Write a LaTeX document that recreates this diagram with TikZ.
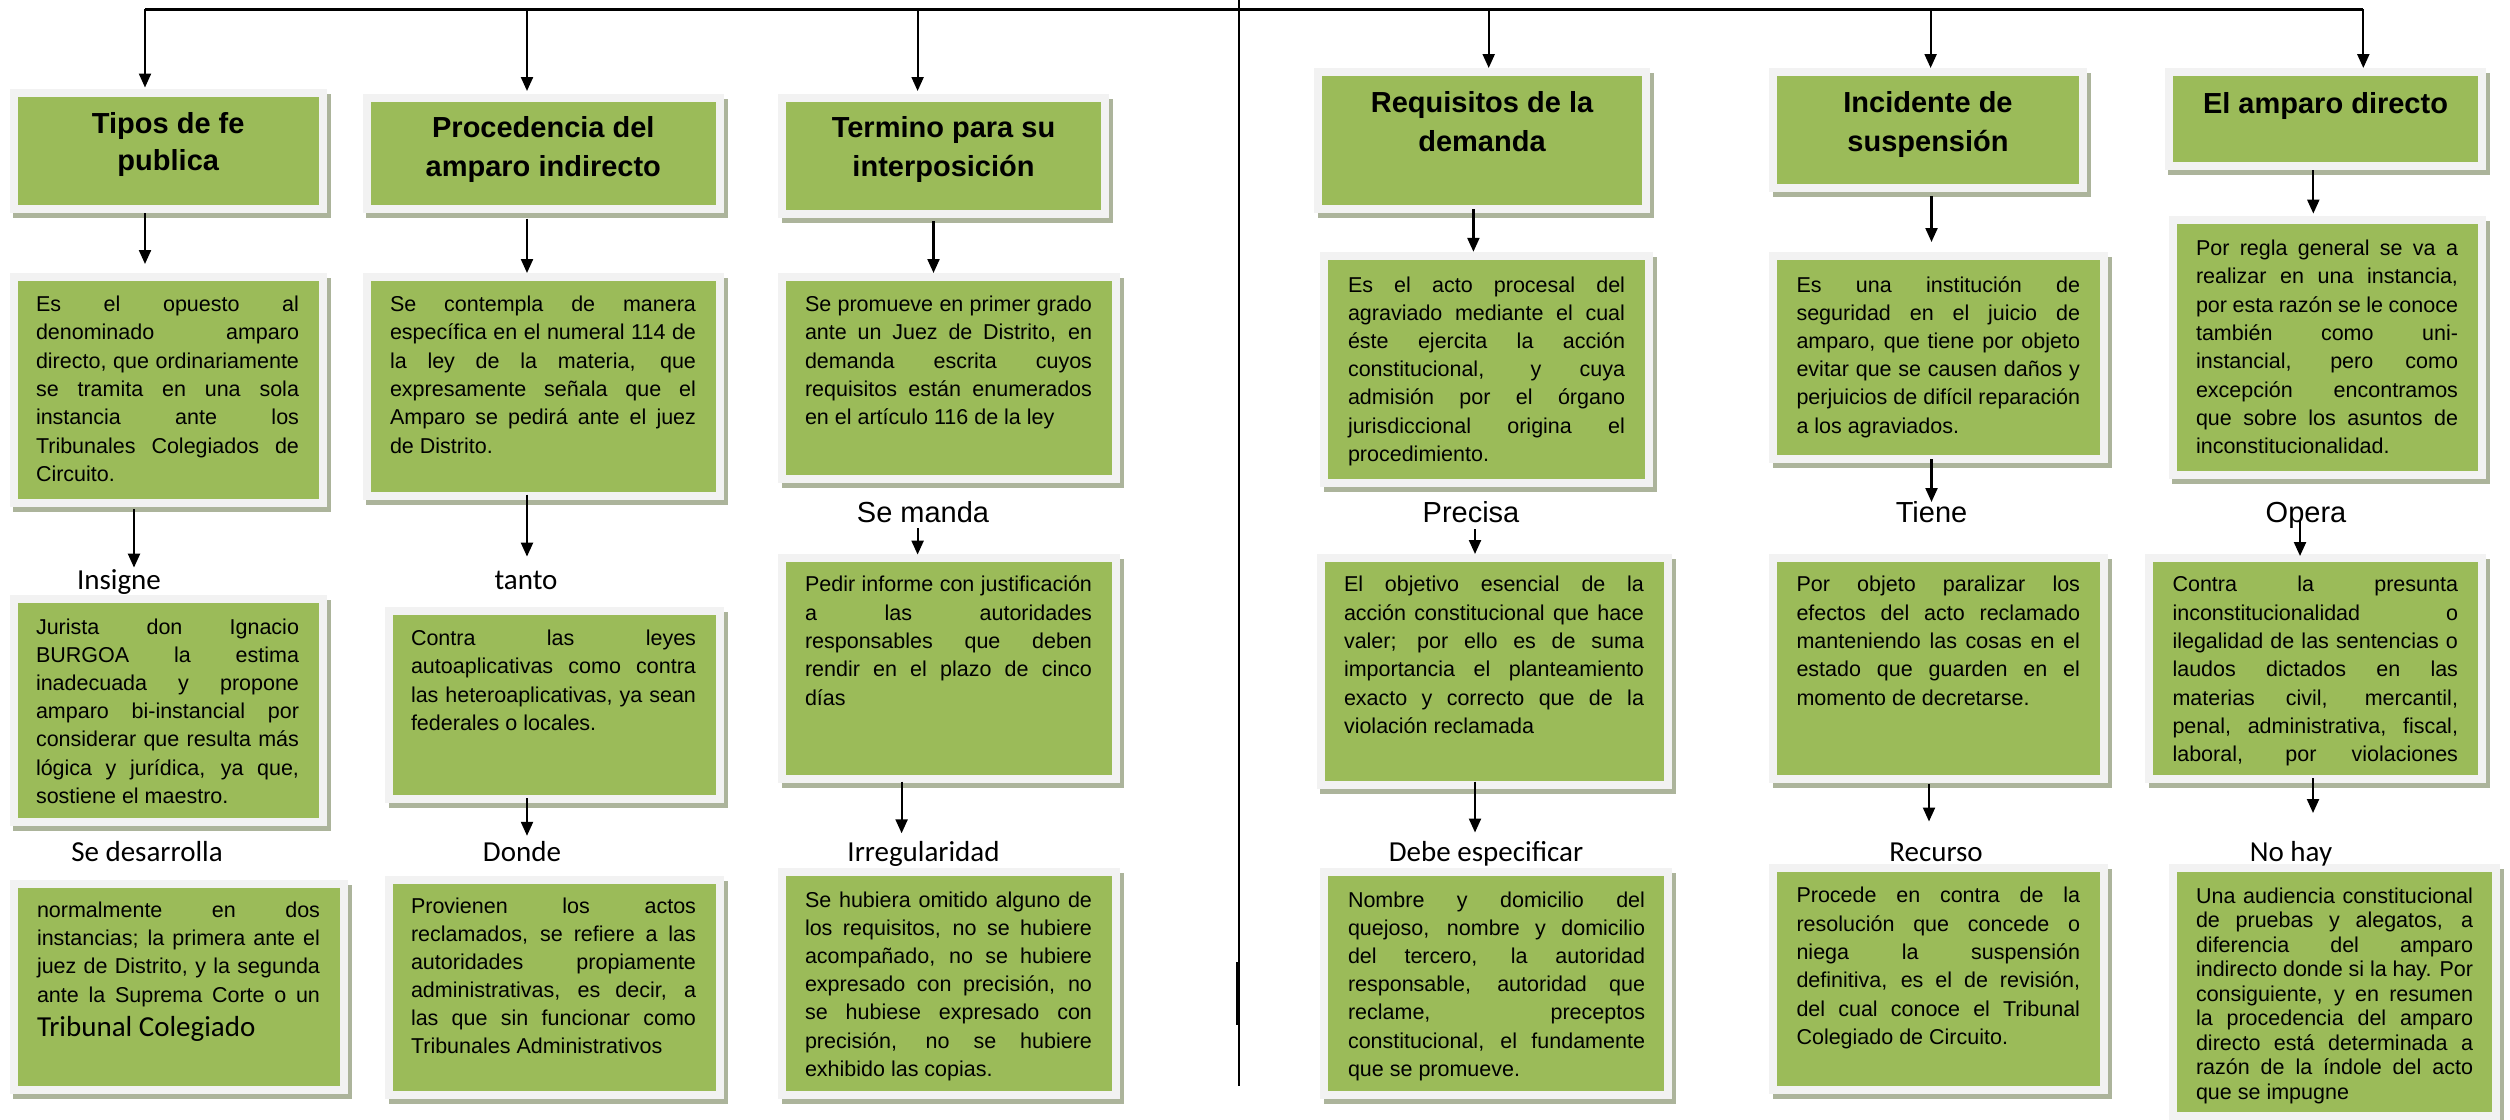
\documentclass[tikz,border=0pt]{standalone}
\usepackage{fontspec}
\setmainfont{Liberation Sans}
\newfontfamily\calfont{Carlito}
\usetikzlibrary{arrows.meta}
\definecolor{boxgreen}{RGB}{155,187,89}
\definecolor{framec}{RGB}{242,242,242}
\definecolor{shadowc}{RGB}{172,180,155}
\tikzset{
  gbox/.style={fill=boxgreen,draw=none,inner sep=0pt,outer sep=0pt},
  arr/.style={-{Triangle[length=14pt,width=12pt]},line width=2.2pt},
  topline/.style={line width=3pt},
  divline/.style={line width=2.4pt},
  lblA/.style={inner sep=0pt,anchor=base,font=\fontsize{29pt}{29pt}\selectfont},
  lblB/.style={inner sep=0pt,anchor=base,font=\calfont\fontsize{29pt}{29pt}\selectfont},
}
\newcommand\GB[5]{%
  \fill[shadowc] ({#2-8+3.5},{#3-8+5}) rectangle ({#4+8+3.5},{#5+8+5});
  \fill[framec] ({#2-8},{#3-8}) rectangle ({#4+8},{#5+8});
  \pgfmathsetmacro\gw{#4-#2}\pgfmathsetmacro\gh{#5-#3}%
  \node[gbox,minimum width=\gw pt,minimum height=\gh pt,anchor=north west] (#1) at (#2,#3) {};}
\newcommand\JL[1]{\hbox to\hsize{#1}}
\newcommand\LL[1]{\hbox to\hsize{#1\hfil}}
\newcommand\CL[1]{\hbox to\hsize{\hfil #1\hfil}}
\newcommand\BT[6]{\node[anchor=base west,inner sep=0pt,outer sep=0pt] (#1) at (#2,#3) {\vtop{\hsize=#4pt\fontsize{21.5pt}{#5pt}\selectfont #6}};}
\newcommand\TT[5]{\node[anchor=base,inner sep=0pt,outer sep=0pt] (#1) at (#2,#3) {\vtop{\hsize=330pt\fontsize{29pt}{#4pt}\selectfont\bfseries #5}};}
\begin{document}
\begin{tikzpicture}[x=1pt,y=-1pt]
\useasboundingbox (0,0) rectangle (2510,1119);
\fill[white] (0,0) rectangle (2510,1119);

% ---------- boxes ----------
\GB{T1}{17.5}{97}{319}{205}
\GB{A1}{17.5}{281}{319}{499}
\GB{B1}{17.5}{603}{319}{818}
\GB{C1}{17.5}{888}{340}{1086}
\GB{T2}{370.7}{101.8}{716}{205.4}
\GB{A2}{370.7}{281}{716}{492}
\GB{B2}{393}{614.5}{716}{794.6}
\GB{C2}{393}{883.5}{716}{1091}
\GB{T3}{786}{101.8}{1101}{210}
\GB{A3}{786}{281}{1112}{475}
\GB{B3}{786}{561.5}{1112}{774.6}
\GB{C3}{786}{876}{1112}{1091}
\GB{T4}{1322}{76}{1642}{205}
\GB{A4}{1328}{260}{1645}{478.6}
\GB{B4}{1324.7}{561.5}{1664}{780.8}
\GB{C4}{1328}{876}{1664}{1091}
\GB{T5}{1777}{76}{2079}{184}
\GB{A5}{1777}{260}{2100}{455}
\GB{B5}{1777}{561.5}{2100}{774.6}
\GB{C5}{1777}{872}{2100}{1086}
\GB{T6}{2172.7}{76}{2478.3}{161.7}
\GB{A6}{2176.5}{224}{2478}{470.7}
\GB{B6}{2153}{561.5}{2478}{774.6}
\GB{C6}{2176.5}{872}{2492}{1111.7}

% ---------- titles ----------
\TT{tT1}{168.25}{133}{37}{\CL{Tipos de fe}\CL{publica}}
\TT{tT2}{543.35}{137.6}{39}{\CL{Procedencia del}\CL{amparo indirecto}}
\TT{tT3}{943.5}{137.6}{39}{\CL{Termino para su}\CL{interposición}}
\TT{tT4}{1482}{112.6}{39}{\CL{Requisitos de la}\CL{demanda}}
\TT{tT5}{1928}{112.6}{39}{\CL{Incidente de}\CL{suspensión}}
\TT{tT6}{2325.5}{113.3}{39}{\CL{El amparo directo}}

% ---------- body texts ----------
\BT{tA1}{36}{311.6}{263}{28.3}{%
\JL{Es el opuesto al}\JL{denominado amparo}\JL{directo, que ordinariamente}%
\JL{se tramita en una sola}\JL{instancia ante los}\JL{Tribunales Colegiados de}\LL{Circuito.}}
\BT{tB1}{36}{634}{263}{28.2}{%
\JL{Jurista don Ignacio}\JL{BURGOA la estima}\JL{inadecuada y propone}%
\JL{amparo bi-instancial por}\JL{considerar que resulta más}\JL{lógica y jurídica, ya que,}\LL{sostiene el maestro.}}
\BT{tC1}{37}{917.5}{283}{28.2}{%
\JL{normalmente en dos}\JL{instancias; la primera ante el}\JL{juez de Distrito, y la segunda}%
\JL{ante la Suprema Corte o un}\baselineskip=34.7pt\LL{\calfont\fontsize{29pt}{29pt}\selectfont Tribunal Colegiado}}
\BT{tA2}{390}{311.6}{306}{28.3}{%
\JL{Se contempla de manera}\JL{específica en el numeral 114 de}\JL{la ley de la materia, que}%
\JL{expresamente señala que el}\JL{Amparo se pedirá ante el juez}\LL{de Distrito.}}
\BT{tB2}{411}{645}{285}{28.5}{%
\JL{Contra las leyes}\JL{autoaplicativas como contra}\JL{las heteroaplicativas, ya sean}\LL{federales o locales.}}
\BT{tC2}{411}{913.9}{285}{28}{%
\JL{Provienen los actos}\JL{reclamados, se refiere a las}\JL{autoridades propiamente}%
\JL{administrativas, es decir, a}\JL{las que sin funcionar como}\LL{Tribunales Administrativos}}
\BT{tA3}{805}{311.6}{287}{28.3}{%
\JL{Se promueve en primer grado}\JL{ante un Juez de Distrito, en}\JL{demanda escrita cuyos}%
\JL{requisitos están enumerados}\LL{en el artículo 116 de la ley}}
\BT{tB3}{805}{591.9}{287}{28.3}{%
\JL{Pedir informe con justificación}\JL{a las autoridades}\JL{responsables que deben}%
\JL{rendir en el plazo de cinco}\LL{días}}
\BT{tC3}{805}{907}{287}{28.2}{%
\JL{Se hubiera omitido alguno de}\JL{los requisitos, no se hubiere}\JL{acompañado, no se hubiere}%
\JL{expresado con precisión, no}\JL{se hubiese expresado con}\JL{precisión, no se hubiere}\LL{exhibido las copias.}}
\BT{tA4}{1348}{292}{277}{28.2}{%
\JL{Es el acto procesal del}\JL{agraviado mediante el cual}\JL{éste ejercita la acción}%
\JL{constitucional, y cuya}\JL{admisión por el órgano}\JL{jurisdiccional origina el}\LL{procedimiento.}}
\BT{tB4}{1344}{591.9}{300}{28.3}{%
\JL{El objetivo esencial de la}\JL{acción constitucional que hace}\JL{valer; por ello es de suma}%
\JL{importancia el planteamiento}\JL{exacto y correcto que de la}\LL{violación reclamada}}
\BT{tC4}{1348}{907}{297}{28.2}{%
\JL{Nombre y domicilio del}\JL{quejoso, nombre y domicilio}\JL{del tercero, la autoridad}%
\JL{responsable, autoridad que}\JL{reclame, preceptos}\JL{constitucional, el fundamente}\LL{que se promueve.}}
\BT{tA5}{1796.5}{292}{283.5}{28.2}{%
\JL{Es una institución de}\JL{seguridad en el juicio de}\JL{amparo, que tiene por objeto}%
\JL{evitar que se causen daños y}\JL{perjuicios de difícil reparación}\LL{a los agraviados.}}
\BT{tB5}{1796.5}{591.9}{283.5}{28.3}{%
\JL{Por objeto paralizar los}\JL{efectos del acto reclamado}\JL{manteniendo las cosas en el}%
\JL{estado que guarden en el}\LL{momento de decretarse.}}
\BT{tC5}{1796.5}{902.9}{283.5}{28.3}{%
\JL{Procede en contra de la}\JL{resolución que concede o}\JL{niega la suspensión}%
\JL{definitiva, es el de revisión,}\JL{del cual conoce el Tribunal}\LL{Colegiado de Circuito.}}
\BT{tA6}{2196}{255.5}{262}{28.3}{%
\JL{Por regla general se va a}\JL{realizar en una instancia,}\JL{por esta razón se le conoce}%
\JL{también como uni-}\JL{instancial, pero como}\JL{excepción encontramos}\JL{que sobre los asuntos de}\LL{inconstitucionalidad.}}
\BT{tB6}{2172.5}{591.9}{285.5}{28.3}{%
\JL{Contra la presunta}\JL{inconstitucionalidad o}\JL{ilegalidad de las sentencias o}%
\JL{laudos dictados en las}\JL{materias civil, mercantil,}\JL{penal, administrativa, fiscal,}\JL{laboral, por violaciones}}
\BT{tC6}{2196}{903}{277}{24.5}{%
\JL{Una audiencia constitucional}\JL{de pruebas y alegatos, a}\JL{diferencia del amparo}%
\JL{indirecto donde si la hay. Por}\JL{consiguiente, y en resumen}\JL{la procedencia del amparo}%
\JL{directo está determinada a}\JL{razón de la índole del acto}\LL{que se impugne}}

% ---------- labels ----------
\node[lblA] (lSeManda) at (923,522) {Se manda};
\node[lblA] (lPrecisa) at (1471,522) {Precisa};
\node[lblA] (lTiene) at (1931.5,522) {Tiene};
\node[lblA] (lOpera) at (2306,522) {Opera};
\node[lblB] (lInsigne) at (119,589) {Insigne};
\node[lblB] (lTanto) at (526,589) {tanto};
\node[lblB] (lSeDes) at (147,861) {Se desarrolla};
\node[lblB] (lDonde) at (522,861) {Donde};
\node[lblB] (lIrreg) at (923.5,861) {Irregularidad};
\node[lblB] (lDebe) at (1486,861) {Debe especificar};
\node[lblB] (lRecurso) at (1936,861) {Recurso};
\node[lblB] (lNoHay) at (2291,861) {No hay};

% ---------- top line & divider ----------
\coordinate (h1) at (145,9);
\coordinate (h2) at (527,9);
\coordinate (h3) at (917.6,9);
\coordinate (h4) at (1488.7,9);
\coordinate (h5) at (1930.6,9);
\coordinate (h6) at (2363.3,9);
\coordinate (dv1) at (1239,0);
\coordinate (dv2) at (1239,1086);
\coordinate (dx1) at (1237,962);
\coordinate (dx2) at (1237,1025);
\draw[topline] (h1) -- (h6);
\draw[divline] (dv1) -- (dv2);
\draw[line width=1.6pt] (dx1) -- (dx2);
\coordinate (k1) at (145,87.5);
\coordinate (k2) at (527,91);
\coordinate (k3) at (917.6,91);
\coordinate (k4) at (1488.7,68);
\coordinate (k5) at (1930.6,68);
\coordinate (k6) at (2363.3,68);
\foreach \i in {1,...,6} {\draw[arr] (h\i) -- (k\i);}

% ---------- column arrows ----------
\coordinate (a1s) at (145,213);   \coordinate (a1e) at (145,264);
\coordinate (a2s) at (134,509);   \coordinate (a2e) at (134,567.6);
\coordinate (b1s) at (527,218.6); \coordinate (b1e) at (527,273);
\coordinate (b2s) at (527,494.6); \coordinate (b2e) at (527,556.6);
\coordinate (b3s) at (527,798);   \coordinate (b3e) at (527,835.8);
\coordinate (c1s) at (933.5,221); \coordinate (c1e) at (933.5,273);
\coordinate (c2s) at (917.6,528); \coordinate (c2e) at (917.6,554.6);
\coordinate (c3s) at (901.6,781.6); \coordinate (c3e) at (901.6,833.3);
\coordinate (d1s) at (1473.4,209); \coordinate (d1e) at (1473.4,251.8);
\coordinate (d2s) at (1475,529);  \coordinate (d2e) at (1475,554);
\coordinate (d3s) at (1475,781.6); \coordinate (d3e) at (1475,832.5);
\coordinate (e1s) at (1931.5,196); \coordinate (e1e) at (1931.5,242);
\coordinate (e2s) at (1931.5,459); \coordinate (e2e) at (1931.5,502);
\coordinate (e3s) at (1929,783.6); \coordinate (e3e) at (1929,821.5);
\coordinate (f1s) at (2313.3,170); \coordinate (f1e) at (2313.3,213.6);
\coordinate (f2s) at (2300,520);  \coordinate (f2e) at (2300,556);
\coordinate (f3s) at (2313,778);  \coordinate (f3e) at (2313,813);
\foreach \c in {a1,a2,b1,b2,b3,c1,c2,c3,d1,d2,d3,e1,e2,e3,f1,f2,f3} {\draw[arr] (\c s) -- (\c e);}
\end{tikzpicture}
\end{document}
